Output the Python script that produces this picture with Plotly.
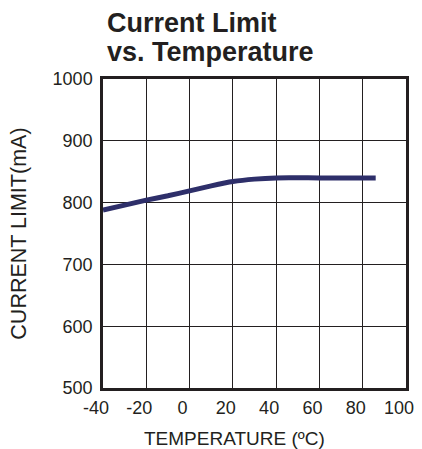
import plotly.graph_objects as go

# Current limit vs temperature
temp_c = [-40, -30, -20, -10, 0, 10, 20, 30, 40, 60, 86]
current_ma = [788, 796, 804, 811, 819, 827, 834, 838, 840, 840, 840]

x_ticks = [-40, -20, 0, 20, 40, 60, 80, 100]
x_labels = ["-40", "-20", "0", "20", "40", "60", "80", "100"]
y_ticks = [500, 600, 700, 800, 900, 1000]

FONT = "Liberation Sans, Arial, sans-serif"
INK = "#231f20"

fig = go.Figure(go.Scatter(
    x=temp_c, y=current_ma, mode="lines",
    line=dict(color="#2e2f6a", width=5, shape="spline", smoothing=0.6),
    hoverinfo="skip",
))

fig.update_layout(
    width=422, height=449,
    margin=dict(l=103, r=8, t=79, b=61),
    paper_bgcolor="white", plot_bgcolor="white",
    showlegend=False,
    font=dict(family=FONT, color=INK),
    xaxis=dict(
        range=[-40, 100], tickvals=x_ticks, ticktext=x_labels, ticks="",
        showgrid=True, gridcolor=INK, gridwidth=1.2,
        showline=True, linecolor=INK, linewidth=2.5, mirror=True,
        zeroline=False, tickfont=dict(size=18, color=INK),
        ticklabelshift=-7, ticklabelstandoff=2,
    ),
    yaxis=dict(
        range=[500, 1000], tickvals=y_ticks, ticks="",
        showgrid=True, gridcolor=INK, gridwidth=1.2,
        showline=True, linecolor=INK, linewidth=2.5, mirror=True,
        zeroline=False, tickfont=dict(size=18, color=INK),
        ticklabelstandoff=4,
    ),
    annotations=[
        dict(text="<b>Current Limit</b>", xref="paper", yref="paper",
             x=0.005, y=1.181, xanchor="left", yanchor="middle",
             showarrow=False, font=dict(size=27, color=INK)),
        dict(text="<b>vs. Temperature</b>", xref="paper", yref="paper",
             x=0.005, y=1.087, xanchor="left", yanchor="middle",
             showarrow=False, font=dict(size=27, color=INK)),
        dict(text="TEMPERATURE (ºC)", xref="paper", yref="paper",
             x=0.434, y=-0.163, xanchor="center", yanchor="middle",
             showarrow=False, font=dict(size=19, color=INK)),
        dict(text="CURRENT LIMIT(mA)", xref="paper", yref="paper",
             x=-0.28, y=0.5, xanchor="center", yanchor="middle",
             textangle=-90, showarrow=False, font=dict(size=21.5, color=INK)),
    ],
)

fig.write_html(
    "out.html",
    config={"displayModeBar": False},
    post_script="document.body.style.margin='0';document.body.style.overflow='hidden';",
)
